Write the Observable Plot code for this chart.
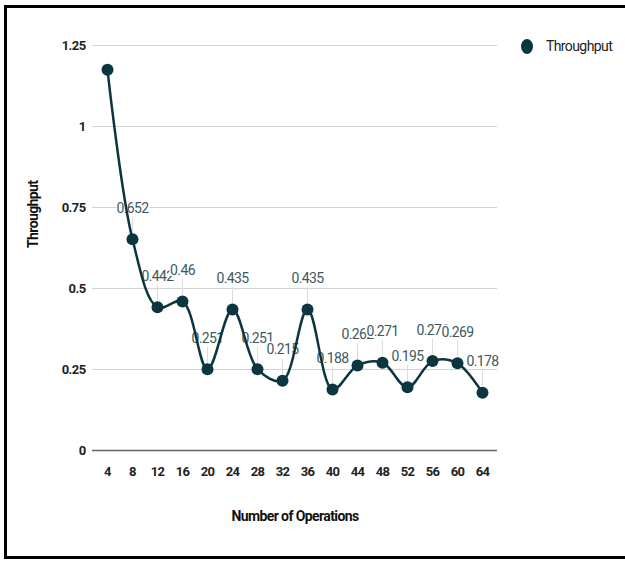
<!DOCTYPE html>
<html><head><meta charset="utf-8">
<script src="https://cdn.jsdelivr.net/npm/d3@7"></script>
<script src="https://cdn.jsdelivr.net/npm/@observablehq/plot@0.6"></script>
<style>
html,body{margin:0;padding:0;background:#fff;overflow:hidden;}
#wrap{position:relative;width:625px;height:561px;overflow:hidden;}
#frame{position:absolute;left:4px;top:5px;width:680px;height:554px;box-sizing:border-box;border:3px solid #000;}
#chart{position:absolute;left:0;top:0;}
#legend{position:absolute;left:521px;top:38px;display:flex;align-items:center;font-family:Roboto,sans-serif;font-size:14px;letter-spacing:-0.6px;color:#222;}
#legend .sw{width:12px;height:15px;border-radius:50%;background:#0b3640;margin-right:13px;}
svg text{letter-spacing:-0.6px;}
</style>
</head><body>
<div id="wrap"><div id="chart"></div><div id="frame"></div>
<div id="legend"><span class="sw"></span><span>Throughput</span></div></div>
<script>
const ops = [4, 8, 12, 16, 20, 24, 28, 32, 36, 40, 44, 48, 52, 56, 60, 64];
const throughput = [1.175, 0.652, 0.442, 0.46, 0.251, 0.435, 0.251, 0.215, 0.435, 0.188, 0.262, 0.271, 0.195, 0.276, 0.269, 0.178];
const pointLabels = ["", "0.652", "0.442", "0.46", "0.251", "0.435", "0.251", "0.215", "0.435", "0.188", "0.262", "0.271", "0.195", "0.276", "0.269", "0.178"];
const yTicks = [0, 0.25, 0.5, 0.75, 1, 1.25];
const yTickLabels = ["0", "0.25", "0.5", "0.75", "1", "1.25"];
const xTitle = "Number of Operations";
const yTitle = "Throughput";

const data = ops.map((o, i) => ({ops: o, v: throughput[i], label: pointLabels[i]}));
const labeled = data.filter(d => d.label);
const ink = "#0b3640";
const font = 'Roboto, sans-serif';

const chart = Plot.plot({
  width: 625, height: 561,
  marginTop: 45, marginBottom: 111, marginLeft: 92, marginRight: 128,
  style: {fontFamily: font, background: "transparent"},
  x: {type: "point", domain: ops, padding: 0, insetLeft: 9, insetRight: 9},
  y: {domain: [0, 1.25]},
  marks: [
    Plot.gridY(yTicks.slice(1), {stroke: "#d3d3d3", strokeOpacity: 1, strokeWidth: 1}),
    Plot.ruleY([0], {stroke: "#666", strokeWidth: 1.5}),
    Plot.axisY(yTicks, {tickSize: 0, tickPadding: 7, fontSize: 13, fontWeight: "bold", fill: "#222", label: null,
      tickFormat: d => yTickLabels[yTicks.indexOf(d)]}),
    Plot.axisX(ops, {tickSize: 0, tickPadding: 16, fontSize: 13, fontWeight: "bold", fill: "#222", label: null}),
    Plot.text([xTitle], {frameAnchor: "bottom", dy: 70, fontSize: 14, fontWeight: "bold", fill: "#111"}),
    Plot.text([yTitle], {frameAnchor: "left", dx: -59, rotate: -90, fontSize: 14, fontWeight: "bold", fill: "#111"}),
    Plot.ruleX(labeled, {x: "ops", y1: "v", y2: "v", insetTop: -22, insetBottom: 6, stroke: "#dcdcdc", strokeWidth: 1}),
    Plot.text(labeled, {x: "ops", y: "v", text: "label", dy: -31, fontSize: 14, fill: "#3d5960", stroke: "white", strokeWidth: 3}),
    Plot.line(data, {x: "ops", y: "v", curve: "catmull-rom", stroke: ink, strokeWidth: 2.5}),
    Plot.dot(data, {x: "ops", y: "v", r: 6, fill: ink, stroke: "none"})
  ]
});
document.getElementById("chart").appendChild(chart);
</script>
</body></html>
